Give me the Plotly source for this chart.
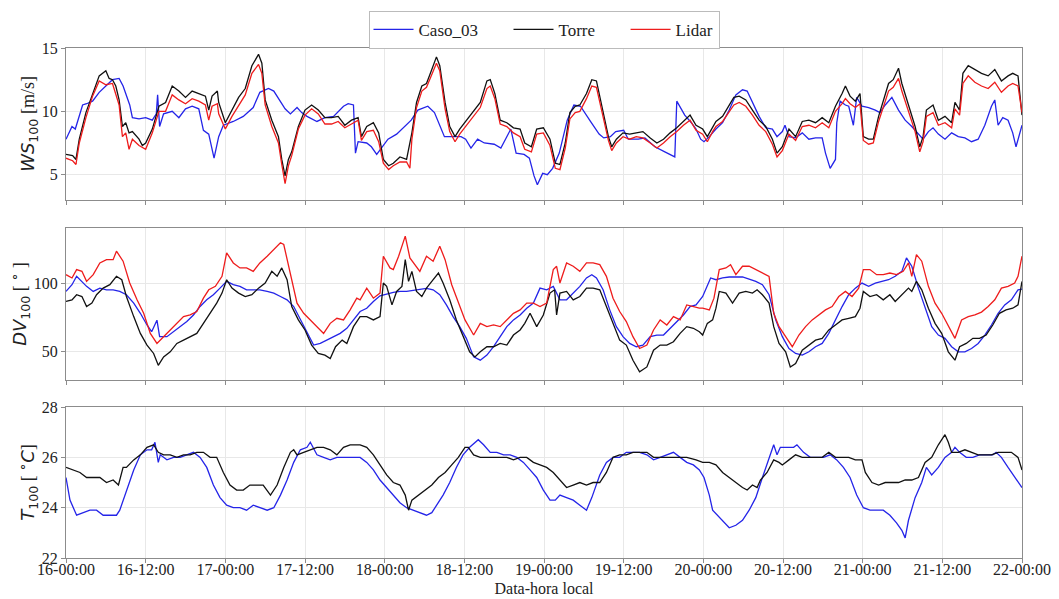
import plotly.graph_objects as go
from plotly.subplots import make_subplots
from datetime import datetime, timedelta

# ---------------- DATA (hours since 16-00:00, value) ----------------
ws_caso = [(0,7.8),(0.9,8.8),(1.4,8.6),(2.5,10.5),(3.1,10.6),(4,10.8),(5,11.5),(6,12.0),(7,12.5),(8,12.6),(8.6,12.0),(9.6,10.5),(10,9.5),(11,9.4),(12,9.5),(13,9.3),(13.6,9.8),(13.8,11.3),(14.1,8.8),(14.7,9.8),(16,10.0),(17,9.5),(18,10.2),(19,10.4),(20,10.2),(20.7,8.5),(21.5,8.2),(22.3,6.3),(23,8.0),(23.7,8.9),(25.2,9.2),(26.7,9.6),(28.2,10.3),(29.2,11.5),(30.5,11.8),(31.3,11.6),(32,11.0),(33,10.2),(33.8,9.8),(34.8,10.3),(35.5,9.9),(36.3,9.6),(37.8,9.2),(39,9.5),(40.3,9.6),(41.8,10.4),(42.5,10.6),(43.3,10.5),(43.6,6.7),(44,7.6),(45.3,7.5),(46,7.2),(46.8,6.6),(48.5,7.8),(49.8,8.2),(51,8.8),(52,9.3),(53,10.1),(54.5,10.4),(55.5,9.9),(56.3,8.8),(57,8.0),(58,8.0),(59.5,8.0),(60.2,7.8),(61,7.1),(62,7.8),(63,7.5),(64.5,7.4),(65.5,7.1),(66.2,7.8),(67,8.6),(67.8,6.7),(69,6.6),(69.8,6.3),(70.5,4.9),(71,4.2),(71.8,5.1),(72.5,5.0),(73.3,5.5),(74.3,6.7),(75.5,9.3),(76.5,10.5),(77.5,10.4),(79,9.2),(80.3,8.2),(81,7.9),(82,8.0),(82.8,8.4),(84,8.5),(84.7,7.8),(86.2,7.8),(87.2,7.9),(88.7,7.2),(90.2,6.8),(91.7,6.4),(92,10.8),(93.2,9.7),(94.2,9.1),(94.9,8.6),(95.6,7.8),(96.1,7.6),(96.9,8.0),(97.9,8.6),(98.9,9.1),(99.9,10.1),(100.9,11.3),(101.9,11.7),(102.6,11.6),(103.4,10.7),(104.4,9.6),(105.4,8.7),(106.4,8.6),(107.1,8.0),(107.9,8.4),(108.3,8.9),(108.9,8.0),(109.9,7.9),(110.9,8.3),(111.9,7.8),(112.9,7.9),(113.9,7.9),(114.4,6.7),(115.1,5.5),(115.9,6.2),(116.1,9.1),(116.6,10.8),(117.4,10.5),(117.9,10.4),(118.6,8.9),(119.1,11.1),(119.9,10.4),(120.9,10.3),(121.9,10.1),(122.6,9.9),(123.4,10.5),(124.4,11.1),(125.4,10.1),(126.4,9.3),(127.4,8.8),(128.4,8.2),(129.1,7.8),(129.9,8.4),(130.6,8.7),(131.4,8.2),(132.4,7.8),(133.4,8.3),(134.4,8.0),(135.4,7.9),(136.4,7.6),(137.4,7.8),(138.4,8.9),(139.4,10.4),(139.9,10.9),(140.4,8.9),(141.1,9.5),(141.9,9.3),(142.6,8.3),(143.1,7.2),(144,8.9)]

ws_torre = [(0,6.6),(1,6.5),(1.5,6.2),(2,7.8),(3,9.9),(4,11.4),(5,12.8),(6,13.2),(6.5,12.6),(7,12.5),(7.5,12.0),(8,10.9),(8.5,8.8),(9,9.1),(9.5,8.3),(10,8.4),(11,7.8),(11.5,7.3),(12,7.5),(13,8.6),(14,10.4),(15,10.7),(16,12.0),(17,11.6),(18,11.1),(19,11.6),(20,11.4),(21,11.2),(21.5,10.1),(22,11.2),(22.8,11.6),(23,10.7),(24,9.1),(25,10.1),(26,11.1),(27,11.8),(28,13.6),(29,14.5),(29.5,13.8),(30,10.9),(31,9.3),(32,8.0),(32.5,6.2),(33,4.9),(33.5,6.2),(34,6.8),(35,8.8),(36,10.1),(37,10.5),(38,10.1),(39,9.5),(40,9.5),(41,9.6),(42,8.9),(43,9.3),(44,9.5),(44.5,8.0),(45.3,8.8),(46.3,9.1),(47.1,8.3),(47.8,6.2),(48.6,5.7),(49.3,5.9),(50.3,6.4),(51.3,6.2),(52.1,8.3),(52.8,10.7),(53.6,12.0),(54.3,12.2),(55.1,13.3),(55.8,14.3),(56.3,13.6),(57.1,10.7),(57.8,8.8),(58.6,8.0),(59.3,8.6),(60.3,9.3),(61.4,10.0),(62.4,10.7),(63.4,12.4),(63.9,12.5),(64.6,11.4),(65.4,9.3),(66.4,9.1),(67.4,8.7),(68.4,8.6),(69.1,7.5),(70.1,7.2),(70.9,8.6),(71.9,8.7),(72.9,7.8),(73.7,5.9),(74.4,5.8),(75.2,7.5),(75.9,9.9),(76.7,10.4),(77.4,10.5),(78.4,11.4),(79.2,12.5),(79.9,12.4),(80.9,9.9),(81.7,8.0),(82.2,7.2),(82.9,7.8),(83.9,8.3),(84.9,8.2),(85.9,8.3),(86.9,8.4),(88,7.9),(89,7.5),(90,7.8),(91,8.3),(92,8.7),(93,9.2),(94,9.7),(94.9,8.9),(95.9,8.6),(96.6,8.0),(97.4,8.8),(97.9,9.2),(98.9,9.6),(99.9,10.5),(100.6,11.1),(101.4,11.2),(102.4,10.9),(103.4,10.1),(104.4,9.3),(105.4,8.8),(106.4,7.8),(107.1,6.7),(107.9,7.2),(108.9,8.6),(109.9,8.0),(110.9,9.2),(111.9,9.3),(112.9,9.1),(113.9,9.5),(114.9,9.1),(115.9,10.4),(116.9,11.4),(117.4,12.0),(118.1,11.2),(118.9,10.8),(119.6,11.4),(120.1,8.0),(120.9,7.8),(121.6,7.8),(122.4,9.6),(123.1,10.9),(123.9,12.2),(124.6,12.5),(125.4,13.4),(125.9,12.2),(126.9,10.4),(127.9,8.8),(128.6,7.2),(129.1,8.0),(129.6,10.1),(130.6,10.5),(131.4,9.3),(132.4,9.6),(133.4,9.1),(133.9,10.7),(134.6,10.1),(135.1,13.0),(135.9,13.6),(136.9,13.3),(137.9,13.0),(138.9,12.8),(139.9,13.3),(140.9,12.4),(141.9,12.8),(142.6,13.0),(143.4,12.8),(144,9.7)]

ws_lidar = [(0,6.3),(1,6.1),(1.5,5.8),(2,7.5),(3,9.5),(4,11.2),(5,12.4),(6,12.1),(7,12.2),(8,10.5),(8.5,8.0),(9,8.3),(9.5,7.0),(10,7.8),(11,7.3),(12,7.0),(13,8.3),(14,10.0),(15,10.0),(16,11.3),(17,10.9),(18,10.6),(19,11.0),(20,10.8),(21,10.5),(21.5,9.3),(22,10.4),(22.8,10.6),(23,9.8),(24,8.6),(25,9.6),(26,10.5),(27,11.3),(28,13.0),(29,13.7),(29.5,13.0),(30,10.5),(31,8.8),(32,7.5),(32.5,5.8),(33,4.3),(33.5,5.7),(34,6.5),(35,8.6),(36,9.7),(37,10.2),(38,9.8),(39,9.0),(40,9.0),(41,9.2),(42,8.7),(43,9.0),(44,9.3),(44.5,7.7),(45.3,8.4),(46.3,8.5),(47.1,7.6),(47.8,5.9),(48.6,5.4),(49.3,5.7),(50.3,6.0),(51.3,6.0),(51.8,5.5),(52.1,7.8),(52.8,10.3),(53.6,11.6),(54.3,11.9),(55.1,12.9),(55.8,13.8),(56.3,13.2),(57.1,10.2),(57.8,8.4),(58.6,7.6),(59.3,8.2),(60.3,8.9),(61.4,9.6),(62.4,10.3),(63.4,11.8),(63.9,12.0),(64.6,11.0),(65.4,9.0),(66.4,8.8),(67.4,8.3),(68.4,8.0),(69.1,7.0),(70.1,6.8),(70.9,8.2),(71.9,8.3),(72.9,7.3),(73.7,5.5),(74.4,5.4),(75.2,7.1),(75.9,9.4),(76.7,9.9),(77.4,10.0),(78.4,11.0),(79.2,12.0),(79.9,11.9),(80.9,9.5),(81.7,7.7),(82.2,6.9),(82.9,7.5),(83.9,8.0),(84.9,7.8),(85.9,8.0),(86.9,7.9),(88,7.5),(89,7.1),(90,7.5),(91,8.0),(92,8.4),(93,8.9),(94,9.3),(94.9,8.5),(95.9,8.2),(96.6,7.6),(97.4,8.4),(97.9,8.8),(98.9,9.2),(99.9,10.0),(100.6,10.5),(101.4,10.7),(102.4,10.4),(103.4,9.7),(104.4,8.9),(105.4,8.4),(106.4,7.4),(107.1,6.4),(107.9,6.9),(108.9,8.2),(109.9,7.7),(110.9,8.8),(111.9,8.9),(112.9,8.7),(113.9,9.1),(114.9,8.7),(115.9,10.0),(116.9,10.6),(117.4,11.0),(118.1,10.6),(118.9,10.3),(119.6,10.6),(120.1,7.7),(120.9,7.4),(121.6,7.5),(122.4,9.2),(123.1,10.4),(123.9,11.6),(124.6,11.9),(125.4,12.6),(125.9,11.6),(126.9,9.9),(127.9,8.4),(128.6,6.8),(129.1,7.6),(129.6,9.6),(130.6,9.9),(131.4,8.9),(132.4,9.1),(133.4,8.7),(133.9,10.2),(134.6,9.7),(135.1,12.2),(135.9,12.8),(136.9,12.3),(137.9,12.0),(138.9,11.8),(139.9,12.3),(140.9,11.5),(141.9,12.0),(142.6,12.2),(143.4,12.0),(144,9.9)]

dv_caso = [(0,93.9),(0.9,98.8),(1.6,104.9),(2.4,101.0),(3.1,97.6),(4.1,93.9),(5.1,96.3),(6.1,95.1),(7.1,95.0),(8.1,94.0),(9.1,91.5),(10.2,85.4),(11.2,78.0),(12.2,69.5),(12.9,64.6),(13.7,73.0),(14.1,61.0),(15.2,61.0),(16.2,64.6),(17.2,68.3),(18.2,72.0),(19.2,76.8),(20.2,83.0),(21.2,87.8),(22.2,91.5),(23.2,96.3),(24.2,101.2),(25.2,98.8),(26.2,97.6),(27.2,95.1),(28.2,95.1),(29.2,95.1),(30.3,93.9),(31.3,92.7),(32.3,90.2),(33.3,87.8),(34.3,82.9),(35.3,73.2),(36.3,63.4),(37.3,54.9),(38.3,56.1),(39.3,58.5),(40.3,61.0),(41.3,63.4),(42.3,67.1),(43.3,73.2),(44.3,79.3),(45.3,81.7),(46.3,86.6),(47.3,90.7),(48.3,92.2),(49.3,93.2),(50.3,93.9),(51.3,93.9),(52.3,94.6),(53.3,95.6),(54.3,96.1),(55.3,95.1),(56.3,91.5),(57.3,84.1),(58.3,75.6),(59.3,68.3),(60.3,59.8),(61.4,46.3),(62.4,43.9),(63.4,47.6),(64.4,53.7),(65.4,61.0),(66.4,68.3),(67.4,73.2),(68.4,76.8),(69.4,81.7),(70.4,85.4),(71.4,96.3),(72.4,95.1),(73.4,97.6),(74.4,87.8),(75.4,87.8),(76.4,92.7),(77.4,97.6),(78.4,103.7),(79.2,106.1),(79.9,103.7),(80.9,95.1),(81.9,80.5),(82.9,68.3),(83.9,61.0),(84.9,56.1),(85.9,53.7),(86.9,54.9),(88,61.0),(89,62.2),(90,62.2),(91,67.1),(92,72.0),(93,76.8),(94,82.9),(94.9,84.1),(95.9,90.2),(96.6,97.6),(97.1,103.7),(97.9,102.4),(98.9,103.7),(99.9,104.4),(100.9,104.4),(101.9,104.4),(102.9,102.9),(103.9,101.2),(104.9,98.8),(105.9,91.5),(106.9,73.2),(107.9,61.0),(108.9,52.4),(109.9,48.8),(110.9,47.6),(111.9,50.0),(112.9,53.7),(113.9,56.1),(114.9,63.4),(115.9,73.2),(116.9,82.9),(117.9,91.5),(118.9,96.3),(119.9,100.0),(120.9,97.6),(121.9,100.0),(122.9,101.2),(123.9,102.4),(124.9,104.9),(125.9,108.5),(126.6,118.3),(127.4,112.2),(128.4,96.3),(129.4,81.7),(130.4,68.3),(131.4,62.2),(132.4,59.8),(133.4,53.7),(134.4,50.0),(135.4,50.0),(136.4,52.4),(137.4,56.1),(138.4,62.2),(139.4,69.5),(140.4,78.0),(141.4,84.1),(142.4,87.8),(143.4,95.1),(144,95.6)]

dv_torre = [(0,86.6),(0.9,87.8),(1.6,91.5),(2.4,90.2),(3.1,82.9),(3.9,85.4),(4.6,91.5),(5.6,96.3),(6.6,98.8),(7.6,104.9),(8.4,102.4),(9.1,90.2),(10.2,75.6),(11.2,63.4),(12.2,54.9),(13.2,48.8),(13.9,40.2),(14.7,46.3),(15.7,50.0),(16.7,56.1),(17.7,58.5),(18.7,61.0),(19.7,63.4),(20.7,70.7),(21.7,78.0),(22.7,85.4),(23.5,92.7),(24.2,102.4),(25,96.3),(26,92.7),(27,90.2),(28,91.5),(29,96.3),(30,100.0),(31,108.5),(31.8,104.9),(32.5,111.0),(33.3,102.4),(34,82.9),(35,73.2),(36,65.9),(37,54.9),(38,48.8),(39,47.6),(39.8,45.1),(40.6,53.7),(41.6,58.5),(42.3,56.1),(43.3,68.3),(44.3,75.6),(45.3,75.6),(46.3,73.2),(47.3,75.6),(47.8,100.0),(48.3,97.6),(49.1,84.1),(49.8,93.9),(50.6,97.6),(51.1,117.0),(51.6,101.2),(52.1,108.5),(52.8,93.9),(53.6,90.2),(54.3,96.3),(55.1,101.2),(56.1,107.3),(56.8,100.0),(57.8,87.8),(58.8,73.2),(59.8,61.0),(60.8,50.0),(61.6,46.3),(62.4,50.0),(63.4,53.7),(64.4,53.7),(65.4,56.1),(66.4,54.9),(67.4,62.2),(68.4,65.9),(69.1,70.7),(69.9,78.0),(70.9,68.3),(71.9,76.8),(72.9,92.7),(73.6,95.1),(73.9,76.8),(74.4,92.7),(75.4,93.9),(76.4,87.8),(77.4,90.2),(78.4,96.3),(79.4,96.3),(80.4,95.1),(81.4,82.9),(82.4,70.7),(83.4,58.5),(84.4,54.9),(85.4,43.9),(86.4,35.4),(87.5,39.0),(88.5,51.2),(89.5,54.9),(90.5,54.9),(91.5,57.3),(92.5,63.4),(93.5,68.3),(94.5,67.1),(95.4,64.6),(95.9,62.2),(96.6,70.7),(97.4,73.2),(97.9,81.7),(98.4,93.9),(99.4,92.7),(100.4,85.4),(101.4,92.7),(102.4,93.9),(103.4,92.7),(104.1,95.1),(104.9,91.5),(105.9,85.4),(106.6,68.3),(107.4,56.1),(108.4,50.0),(109.1,39.0),(109.9,41.5),(110.9,51.2),(111.9,54.9),(112.9,58.5),(113.9,59.8),(114.9,65.9),(115.9,69.5),(116.9,73.2),(117.9,74.4),(118.9,75.6),(119.6,81.7),(120.1,93.9),(121.1,90.2),(122.1,91.5),(123.1,87.8),(124.1,91.5),(124.9,86.6),(125.9,91.5),(126.9,96.3),(127.4,93.9),(128.1,101.2),(128.9,95.1),(129.9,81.7),(130.9,70.7),(131.9,63.4),(132.9,50.0),(133.9,43.9),(134.6,53.7),(135.6,56.1),(136.6,59.8),(137.6,59.8),(138.6,62.2),(139.6,69.5),(140.6,78.0),(141.6,80.5),(142.6,81.7),(143.4,84.1),(144,101.2)]

dv_lidar = [(0,106.1),(0.9,103.7),(1.6,109.8),(2.4,108.5),(3.1,101.2),(4.1,106.1),(5.1,114.6),(6.1,117.0),(7.1,117.0),(7.6,123.2),(8.6,115.9),(9.6,100.0),(10.7,87.8),(11.7,78.0),(12.7,63.4),(13.7,56.1),(14.7,61.0),(15.7,65.9),(16.7,70.7),(17.7,75.6),(18.7,76.8),(19.7,79.3),(20.7,89.0),(21.5,95.1),(22.5,97.6),(23.5,104.9),(24.2,122.0),(25.2,114.6),(26.2,111.0),(27.2,111.0),(28.2,108.5),(29.2,114.6),(30.3,119.5),(31.3,124.4),(32.3,129.3),(32.8,128.0),(33.8,107.3),(34.8,85.4),(35.8,78.0),(36.8,73.2),(37.8,68.3),(38.8,63.4),(39.8,70.7),(40.8,74.4),(41.8,73.2),(42.8,80.5),(43.8,89.0),(44.3,87.8),(45.3,96.3),(46.3,89.0),(47.3,92.7),(47.8,119.5),(48.8,111.0),(49.3,109.8),(50.1,119.5),(51.1,134.1),(51.8,118.3),(52.8,112.2),(53.3,108.5),(54.3,119.5),(55.3,115.9),(56.3,126.8),(57.1,117.0),(58.1,98.8),(59.1,85.4),(60.1,73.2),(61.4,62.2),(62.4,70.7),(63.4,68.3),(64.4,69.5),(65.4,68.3),(66.4,73.2),(67.4,78.0),(68.4,80.5),(69.4,85.4),(70.4,85.4),(71.4,82.9),(72.4,85.4),(73.4,109.8),(73.9,112.2),(74.4,100.0),(75.4,114.6),(76.4,112.2),(77.4,108.5),(78.4,114.6),(79.4,114.6),(80.4,113.4),(81.4,104.9),(82.4,89.0),(83.4,79.3),(84.4,72.0),(85.4,61.0),(86.4,52.4),(87.5,54.9),(88.5,65.9),(89.5,73.2),(90.5,69.5),(91.5,75.6),(92.5,73.2),(93.5,84.1),(94.5,82.9),(95.4,81.7),(95.9,81.7),(96.9,80.5),(97.6,89.0),(98.4,109.8),(99.4,111.0),(100.1,113.4),(100.9,106.1),(101.9,112.2),(102.9,112.2),(103.9,109.8),(104.9,107.3),(105.9,104.9),(106.6,78.0),(107.4,68.3),(108.4,61.0),(109.4,53.7),(110.4,62.2),(111.4,68.3),(112.4,73.2),(113.4,76.8),(114.4,80.5),(115.4,82.9),(116.4,90.2),(117.4,93.9),(118.4,90.2),(119.4,96.3),(120.1,109.8),(121.1,109.8),(122.1,106.1),(123.1,106.1),(124.1,107.3),(125.1,106.1),(126.1,108.5),(126.9,114.6),(127.4,104.9),(128.1,120.7),(128.9,115.9),(129.9,97.6),(130.9,85.4),(131.9,78.0),(132.9,68.3),(133.9,59.8),(134.9,73.2),(135.9,75.6),(136.9,76.8),(137.9,78.9),(138.9,82.9),(139.9,87.8),(140.9,96.3),(141.9,97.6),(142.9,100.0),(143.4,104.9),(144,119.5)]

t_caso = [(0,25.2),(0.6,24.3),(1.6,23.7),(2.6,23.8),(3.6,23.9),(4.6,23.9),(5.6,23.7),(6.6,23.7),(7.6,23.7),(8.1,23.9),(9.1,24.7),(10.2,25.5),(11.2,26.1),(12.2,26.3),(12.9,26.3),(13.4,26.6),(13.9,25.8),(14.2,26.1),(15.2,25.9),(16.2,26.0),(17.2,26.0),(18.2,26.1),(19.2,26.2),(20.2,26.0),(21.2,25.6),(22.2,24.9),(23.2,24.4),(24.2,24.1),(25.2,24.0),(26.2,24.0),(27.2,23.9),(28.2,24.1),(29.2,24.0),(30.3,23.9),(31.3,24.0),(32.3,24.5),(33.3,25.1),(34.3,25.8),(35.3,26.3),(36.3,26.4),(36.8,26.6),(37.8,26.1),(38.8,26.0),(39.8,25.9),(40.8,26.0),(41.8,26.0),(42.8,26.0),(44.3,26.0),(45.3,25.8),(46.3,25.5),(47.3,25.1),(48.3,24.8),(49.3,24.5),(50.3,24.2),(51.3,24.0),(52.3,23.9),(53.3,23.8),(54.3,23.7),(55.1,23.8),(55.8,24.1),(56.8,24.5),(57.8,25.0),(58.8,25.6),(59.8,26.1),(60.8,26.4),(62.1,26.7),(62.9,26.5),(63.9,26.2),(64.9,26.2),(65.9,26.1),(66.9,26.1),(67.9,26.0),(68.9,25.8),(69.9,25.5),(70.9,25.2),(71.9,24.7),(72.9,24.3),(73.7,24.3),(74.4,24.5),(75.4,24.4),(76.4,24.3),(77.4,24.1),(78.4,23.9),(79.2,24.4),(80.4,25.3),(81.4,25.8),(82.4,26.0),(83.4,26.0),(84.4,26.2),(85.4,26.2),(86.4,26.2),(87.5,26.1),(88.5,25.9),(89.5,26.0),(90.5,26.1),(91.5,26.2),(92.5,26.0),(93.5,25.8),(94.5,25.7),(95.4,25.5),(96.1,25.2),(96.9,24.5),(97.4,23.9),(98.1,23.7),(98.9,23.5),(99.9,23.2),(100.9,23.3),(101.9,23.5),(102.9,23.9),(103.9,24.4),(104.9,25.2),(105.9,26.0),(106.6,26.5),(107.1,26.1),(107.6,26.4),(108.6,26.4),(109.6,26.4),(110.1,26.5),(111.1,26.2),(112.1,26.0),(113.1,26.0),(114.1,26.0),(115.1,26.1),(116.1,25.9),(117.1,25.6),(118.1,25.2),(119.1,24.5),(120.1,24.0),(121.1,23.9),(122.1,23.9),(123.1,23.9),(124.1,23.7),(125.1,23.4),(125.9,23.1),(126.4,22.8),(126.9,23.5),(127.9,24.4),(128.9,25.0),(129.6,25.6),(130.4,25.3),(131.4,25.6),(132.4,26.0),(133.4,26.2),(133.9,26.4),(134.6,26.2),(135.6,26.0),(136.6,26.0),(137.6,26.1),(138.6,26.1),(139.6,26.1),(140.1,26.2),(140.9,26.0),(141.9,25.6),(142.9,25.2),(144,24.8)]

t_torre = [(0,25.6),(1.1,25.5),(2.1,25.4),(3.1,25.2),(4.1,25.2),(5.1,25.2),(6.1,25.0),(7.1,25.1),(7.9,24.9),(8.6,25.6),(9.1,25.6),(10.2,25.9),(11.2,26.1),(12.2,26.4),(13.2,26.5),(13.9,26.2),(14.7,26.1),(15.7,26.1),(16.7,26.0),(17.7,26.1),(18.7,26.1),(19.7,26.2),(20.7,26.2),(21.7,26.0),(22.7,26.0),(23.7,25.4),(24.7,24.9),(25.7,24.7),(26.7,24.7),(27.7,24.9),(28.7,24.9),(29.7,24.9),(30.8,24.5),(31.8,24.9),(32.8,25.6),(33.8,26.2),(34.3,26.3),(34.8,26.1),(35.8,26.2),(36.8,26.3),(37.8,26.4),(38.8,26.4),(39.8,26.3),(40.8,26.1),(41.8,26.4),(42.8,26.5),(43.8,26.5),(44.3,26.5),(45.3,26.4),(46.3,26.1),(47.3,25.7),(48.3,25.3),(49.3,25.0),(50.3,24.9),(51.1,24.5),(51.6,23.9),(52.1,24.3),(53.1,24.5),(54.1,24.7),(55.1,24.9),(56.1,25.2),(57.1,25.4),(58.1,25.7),(59.1,26.0),(60.1,26.4),(60.6,26.4),(61.4,26.1),(62.4,26.0),(63.4,26.0),(64.4,26.0),(65.4,26.0),(66.4,26.0),(67.4,25.9),(68.4,26.0),(69.4,26.0),(70.4,25.8),(71.4,25.7),(72.4,25.6),(73.4,25.4),(74.4,25.1),(75.4,24.8),(76.4,24.9),(77.4,25.0),(78.4,24.9),(79.4,25.0),(80.4,25.0),(81.4,25.4),(82.4,26.0),(83.4,26.1),(84.4,26.1),(85.4,26.2),(86.4,26.2),(87.5,26.2),(88.5,26.0),(89.5,26.0),(90.5,26.0),(91.5,26.0),(92.5,26.0),(93.5,26.0),(94.9,25.9),(95.9,25.8),(96.9,25.8),(97.9,25.7),(98.9,25.4),(99.9,25.2),(100.9,25.0),(101.9,24.8),(102.6,24.7),(103.4,24.9),(104.1,24.8),(104.6,25.1),(105.6,25.4),(106.6,25.9),(107.4,25.8),(107.9,25.7),(108.9,25.9),(109.9,26.1),(110.9,26.0),(111.9,26.0),(112.9,26.0),(113.9,26.0),(114.9,26.2),(115.9,26.0),(116.9,26.0),(117.9,26.0),(118.9,25.9),(119.9,25.9),(120.4,25.4),(121.4,25.0),(122.4,24.9),(123.4,25.0),(124.4,25.0),(125.4,25.0),(126.4,25.1),(127.4,25.1),(128.4,25.2),(129.4,25.8),(130.4,26.0),(131.4,26.5),(132.4,26.9),(132.9,26.6),(133.4,26.2),(134.4,26.2),(135.4,26.3),(136.4,26.2),(137.4,26.1),(138.4,26.1),(139.4,26.1),(140.4,26.2),(141.4,26.2),(142.4,26.2),(143.4,26.0),(144,25.5)]

# series names, colours
names = ["Caso_03", "Torre", "Lidar"]
colors = ["#2424e8", "#111111", "#ee1c1c"]
x_tick_step_hours = 12
start = datetime(2020, 1, 16, 0, 0)

def to_xy(pairs):
    xs = [start + timedelta(hours=h) for h, _ in pairs]
    ys = [v for _, v in pairs]
    return xs, ys

fig = make_subplots(rows=3, cols=1, shared_xaxes=True)

panels = [
    (1, [ws_caso, ws_torre, ws_lidar]),
    (2, [dv_caso, dv_torre, dv_lidar]),
    (3, [t_caso, t_torre]),
]
pad = "\u00a0" * 6
for row, series in panels:
    for i, pairs in enumerate(series):
        xs, ys = to_xy(pairs)
        fig.add_trace(go.Scatter(
            x=xs, y=ys, mode="lines",
            name=names[i] + (pad if i < 2 else ""),
            line=dict(color=colors[i], width=1.3),
            showlegend=(row == 1), legendgroup=names[i]),
            row=row, col=1)

serif = "Liberation Serif, Times New Roman, serif"
axis_common = dict(
    showline=True, linecolor="#8c8c8c", linewidth=1.2, mirror=True,
    showgrid=True, gridcolor="#e8e8e8", gridwidth=1,
    ticks="outside", ticklen=4, tickcolor="#8c8c8c",
    zeroline=False, automargin=False,
)

end = start + timedelta(days=6)
for r in (1, 2, 3):
    fig.update_xaxes(
        type="date", range=[start, end], dtick=x_tick_step_hours * 3600 * 1000,
        tick0=start, tickformat="%d-%H:%M",
        tickfont=dict(family=serif, size=16, color="#222"),
        ticklabelstandoff=-7,
        **axis_common, row=r, col=1)

fig.update_xaxes(title=dict(text="Data-hora local", font=dict(family=serif, size=16, color="#222"), standoff=5), row=3, col=1)

math = "DejaVu Sans"
ytf = dict(family=serif, size=16, color="#222")
fig.update_yaxes(range=[3, 15], tickvals=[5, 10, 15], tickfont=ytf, **axis_common, row=1, col=1,
                 title=dict(text=f"<span style='font-family:{math}'><i>WS</i><sub>100</sub></span> [m/s]",
                            font=dict(family=serif, size=18, color="#222"), standoff=2))
fig.update_yaxes(range=[29.5, 140], tickvals=[50, 100], tickfont=ytf, **axis_common, row=2, col=1,
                 title=dict(text=f"<span style='font-family:{math}'><i>DV</i><sub>100</sub></span> [ <sup>∘</sup> ]",
                            font=dict(family=serif, size=18, color="#222"), standoff=2))
fig.update_yaxes(range=[22, 28], tickvals=[22, 24, 26, 28], tickfont=ytf, **axis_common, row=3, col=1,
                 title=dict(text=f"<span style='font-family:{math}'><i>T</i><sub>100</sub></span> [ <sup>∘</sup><span style='font-family:{math}'><i>C</i></span>]",
                            font=dict(family=serif, size=18, color="#222"), standoff=2))

fig.update_layout(
    width=1059, height=599,
    margin=dict(l=66, r=37, t=48, b=41, autoexpand=False),
    paper_bgcolor="white", plot_bgcolor="white",
    yaxis=dict(domain=[0.702, 1.0]),
    yaxis2=dict(domain=[0.349, 0.647]),
    yaxis3=dict(domain=[0.0, 0.296]),
    legend=dict(orientation="h", x=0.5, xanchor="center",
                yref="container", y=0.982, yanchor="top",
                font=dict(family=serif, size=17, color="#222"),
                bordercolor="#bbbbbb", borderwidth=1, bgcolor="white",
                itemwidth=40, tracegroupgap=0),
    font=dict(family=serif),
)

fig.write_html("out.html")
